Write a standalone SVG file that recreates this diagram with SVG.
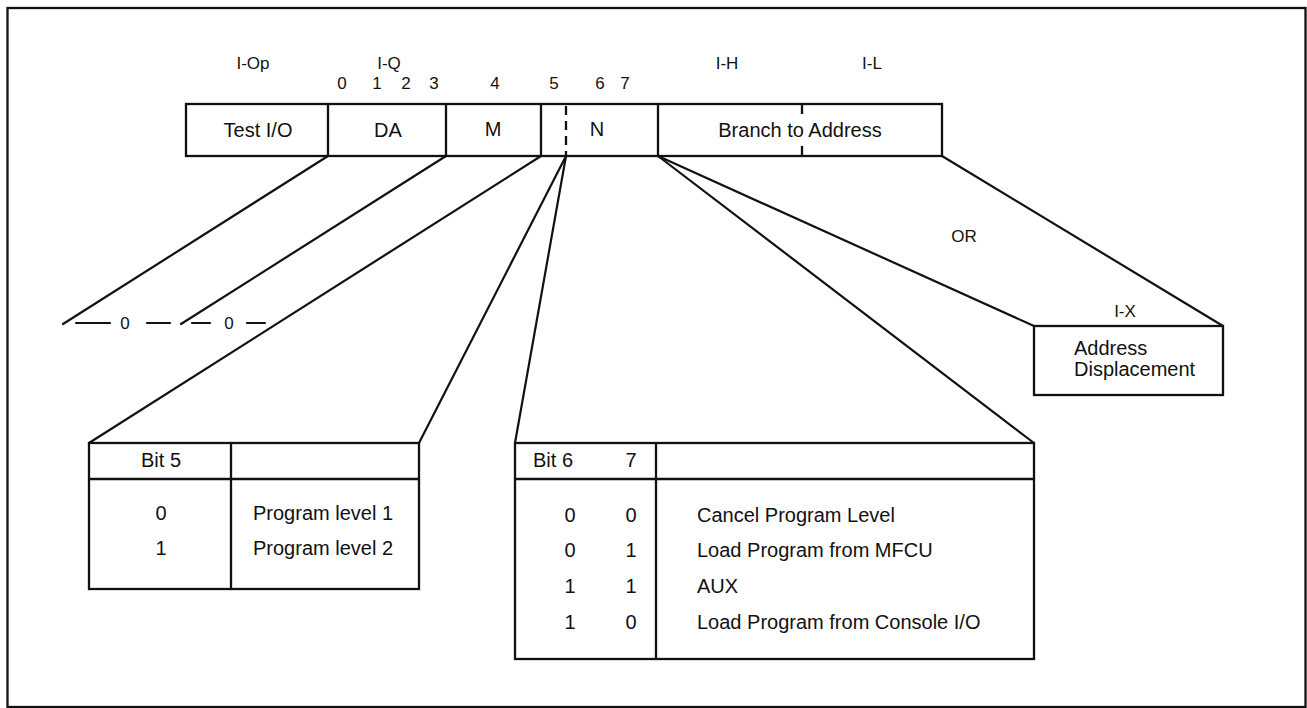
<svg xmlns="http://www.w3.org/2000/svg" width="1307" height="708" viewBox="0 0 1307 708">
<style>
.ln{stroke:#111;stroke-width:2.2;fill:none;stroke-linecap:round}
.bx{stroke:#111;stroke-width:2.3;fill:none}
.t{font-family:"Liberation Sans",Arial,sans-serif;fill:#111;font-size:20px}
.s{font-family:"Liberation Sans",Arial,sans-serif;fill:#111;font-size:17px}
.z{font-family:"Liberation Sans",Arial,sans-serif;fill:#111;font-size:19px;font-weight:bold}
.m{text-anchor:middle}
</style>
<rect x="0" y="0" width="1307" height="708" fill="#fff"/>
<rect x="7.5" y="8" width="1298" height="699" class="bx" stroke-width="2.5"/>

<g id="labels">
<text class="s m" x="253" y="69">I-Op</text>
<text class="s m" x="389" y="69">I-Q</text>
<text class="s m" x="727" y="69">I-H</text>
<text class="s m" x="872" y="69">I-L</text>
<text class="s m" x="342" y="89">0</text>
<text class="s m" x="377" y="89">1</text>
<text class="s m" x="406" y="89">2</text>
<text class="s m" x="434" y="89">3</text>
<text class="s m" x="495" y="89">4</text>
<text class="s m" x="554" y="89">5</text>
<text class="s m" x="600" y="89">6</text>
<text class="s m" x="625" y="89">7</text>
</g>

<g id="register">
<rect x="186" y="104" width="756" height="52" class="bx"/>
<line x1="328" y1="104" x2="328" y2="156" class="bx"/>
<line x1="446" y1="104" x2="446" y2="156" class="bx"/>
<line x1="541" y1="104" x2="541" y2="156" class="bx"/>
<line x1="566" y1="106" x2="566" y2="156" class="bx" stroke-dasharray="9 6"/>
<line x1="658" y1="104" x2="658" y2="156" class="bx"/>
<line x1="802" y1="104" x2="802" y2="114" class="bx"/>
<line x1="802" y1="146" x2="802" y2="156" class="bx"/>
<text class="t m" x="258" y="137">Test I/O</text>
<text class="t m" x="388" y="137">DA</text>
<text class="t m" x="493" y="136">M</text>
<text class="t m" x="597" y="136">N</text>
<text class="t m" x="800" y="137">Branch to Address</text>
</g>

<g id="connectors">
<line x1="328" y1="156" x2="63" y2="324" class="ln"/>
<line x1="446" y1="156" x2="181" y2="324" class="ln"/>
<line x1="541" y1="156" x2="89" y2="443" class="ln"/>
<line x1="566" y1="156" x2="419" y2="443" class="ln"/>
<line x1="566" y1="156" x2="515" y2="443" class="ln"/>
<line x1="658" y1="156" x2="1034" y2="443" class="ln"/>
<line x1="658" y1="156" x2="1034" y2="326" class="ln"/>
<line x1="942" y1="156" x2="1223" y2="326" class="ln"/>
<text class="s m" x="964" y="242">OR</text>
</g>

<g id="zeros">
<line x1="76" y1="323" x2="110" y2="323" class="ln"/>
<text class="s m" x="125" y="329">0</text>
<line x1="147" y1="323" x2="170" y2="323" class="ln"/>
<line x1="192" y1="323" x2="210" y2="323" class="ln"/>
<text class="s m" x="229" y="329">0</text>
<line x1="247" y1="323" x2="265" y2="323" class="ln"/>
</g>

<g id="address-displacement">
<text class="s m" x="1125" y="317">I-X</text>
<rect x="1034" y="326" width="189" height="69" class="bx"/>
<text class="t" x="1074" y="355">Address</text>
<text class="t" x="1074" y="376">Displacement</text>
</g>

<g id="bit5-table">
<rect x="89" y="443" width="330" height="146" class="bx"/>
<line x1="89" y1="479" x2="419" y2="479" class="bx"/>
<line x1="231" y1="443" x2="231" y2="589" class="bx"/>
<text class="t m" x="161" y="467">Bit 5</text>
<text class="t m" x="161" y="520">0</text>
<text class="t m" x="161" y="555">1</text>
<text class="t" x="253" y="520">Program level 1</text>
<text class="t" x="253" y="555">Program level 2</text>
</g>

<g id="bit67-table">
<rect x="515" y="443" width="519" height="216" class="bx"/>
<line x1="515" y1="479" x2="1034" y2="479" class="bx"/>
<line x1="656" y1="443" x2="656" y2="659" class="bx"/>
<text class="t" x="533" y="467">Bit 6</text>
<text class="t m" x="631" y="467">7</text>
<text class="t m" x="570" y="522">0</text>
<text class="t m" x="631" y="522">0</text>
<text class="t m" x="570" y="557">0</text>
<text class="t m" x="631" y="557">1</text>
<text class="t m" x="570" y="593">1</text>
<text class="t m" x="631" y="593">1</text>
<text class="t m" x="570" y="629">1</text>
<text class="t m" x="631" y="629">0</text>
<text class="t" x="697" y="522">Cancel Program Level</text>
<text class="t" x="697" y="557">Load Program from MFCU</text>
<text class="t" x="697" y="593">AUX</text>
<text class="t" x="697" y="629">Load Program from Console I/O</text>
</g>
</svg>
